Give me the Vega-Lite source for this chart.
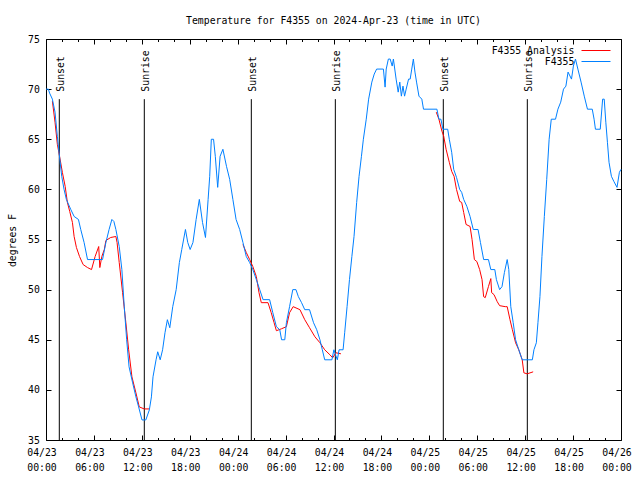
{
  "$schema": "https://vega.github.io/schema/vega-lite/v6.json",
  "width": 575,
  "height": 401,
  "autosize": {"type": "none"},
  "padding": {"left": 46, "top": 39, "right": 19, "bottom": 40},
  "background": "white",
  "view": {"stroke": "black", "strokeWidth": 1},
  "config": {
    "font": "DejaVu Sans Mono",
    "text": {"font": "DejaVu Sans Mono"}
  },
  "title": {
    "text": "Temperature for F4355 on 2024-Apr-23 (time in UTC)",
    "font": "DejaVu Sans Mono",
    "fontSize": 9.8,
    "fontWeight": "normal",
    "color": "black",
    "anchor": "middle",
    "frame": "group",
    "baseline": "alphabetic",
    "offset": 0.7
  },
  "datasets": {
    "observed": [
      {"hours": 0.0, "temp": 70}, {"hours": 0.3, "temp": 70}, {"hours": 0.45, "temp": 69.6}, {"hours": 0.8, "temp": 69},
      {"hours": 1.13, "temp": 67.7}, {"hours": 1.42, "temp": 65.3}, {"hours": 1.63, "temp": 63.7}, {"hours": 1.97, "temp": 61.3},
      {"hours": 2.26, "temp": 60}, {"hours": 2.55, "temp": 59}, {"hours": 3.1, "temp": 58}, {"hours": 3.52, "temp": 57.3},
      {"hours": 4.06, "temp": 57}, {"hours": 4.35, "temp": 56}, {"hours": 4.77, "temp": 54.7}, {"hours": 5.2, "temp": 53},
      {"hours": 7.08, "temp": 53}, {"hours": 7.5, "temp": 54.7}, {"hours": 7.9, "temp": 56}, {"hours": 8.25, "temp": 57},
      {"hours": 8.5, "temp": 56.8}, {"hours": 8.75, "temp": 56}, {"hours": 9.17, "temp": 54.3}, {"hours": 9.5, "temp": 52},
      {"hours": 9.8, "temp": 48.3}, {"hours": 10.1, "temp": 45}, {"hours": 10.4, "temp": 42.3}, {"hours": 10.85, "temp": 40.7},
      {"hours": 11.26, "temp": 39.3}, {"hours": 11.6, "temp": 38.3}, {"hours": 12.02, "temp": 37}, {"hours": 12.5, "temp": 37},
      {"hours": 12.94, "temp": 38}, {"hours": 13.2, "temp": 39.3}, {"hours": 13.4, "temp": 41.3}, {"hours": 13.78, "temp": 43},
      {"hours": 13.99, "temp": 43.8}, {"hours": 14.3, "temp": 43}, {"hours": 14.6, "temp": 44}, {"hours": 14.9, "temp": 45.7},
      {"hours": 15.2, "temp": 47}, {"hours": 15.5, "temp": 46.2}, {"hours": 15.87, "temp": 48.3}, {"hours": 16.3, "temp": 50},
      {"hours": 16.7, "temp": 52.7}, {"hours": 17.0, "temp": 54}, {"hours": 17.46, "temp": 56}, {"hours": 17.75, "temp": 54.7},
      {"hours": 18.05, "temp": 54}, {"hours": 18.4, "temp": 54.7}, {"hours": 18.8, "temp": 57}, {"hours": 19.2, "temp": 59},
      {"hours": 19.6, "temp": 56.7}, {"hours": 19.97, "temp": 55.2}, {"hours": 20.3, "temp": 59}, {"hours": 20.5, "temp": 61.3},
      {"hours": 20.7, "temp": 65}, {"hours": 20.98, "temp": 65}, {"hours": 21.2, "temp": 63.3}, {"hours": 21.5, "temp": 60.2},
      {"hours": 21.8, "temp": 63.3}, {"hours": 22.15, "temp": 64}, {"hours": 22.6, "temp": 62.3}, {"hours": 23.0, "temp": 61},
      {"hours": 23.4, "temp": 59}, {"hours": 23.8, "temp": 57}, {"hours": 24.25, "temp": 56}, {"hours": 24.66, "temp": 54.7},
      {"hours": 25.08, "temp": 53.3}, {"hours": 25.5, "temp": 52.7}, {"hours": 25.9, "temp": 52}, {"hours": 26.34, "temp": 51},
      {"hours": 26.76, "temp": 50}, {"hours": 27.18, "temp": 49}, {"hours": 28.0, "temp": 49}, {"hours": 28.4, "temp": 47.7},
      {"hours": 28.85, "temp": 46.3}, {"hours": 29.27, "temp": 46}, {"hours": 29.5, "temp": 45}, {"hours": 29.9, "temp": 45},
      {"hours": 30.1, "temp": 46.7}, {"hours": 30.5, "temp": 48.3}, {"hours": 30.9, "temp": 50}, {"hours": 31.3, "temp": 50},
      {"hours": 31.6, "temp": 49.3}, {"hours": 32.0, "temp": 48.7}, {"hours": 32.4, "temp": 48}, {"hours": 33.0, "temp": 48},
      {"hours": 33.5, "temp": 46.7}, {"hours": 33.9, "temp": 46}, {"hours": 34.3, "temp": 45}, {"hours": 34.6, "temp": 44},
      {"hours": 34.9, "temp": 43}, {"hours": 35.8, "temp": 43}, {"hours": 36.05, "temp": 44}, {"hours": 36.25, "temp": 43.5},
      {"hours": 36.48, "temp": 43}, {"hours": 36.7, "temp": 44}, {"hours": 37.2, "temp": 44}, {"hours": 37.4, "temp": 45.7},
      {"hours": 37.7, "temp": 48.3}, {"hours": 38.0, "temp": 51}, {"hours": 38.3, "temp": 53.3}, {"hours": 38.57, "temp": 55.3},
      {"hours": 38.9, "temp": 58.7}, {"hours": 39.2, "temp": 61.3}, {"hours": 39.5, "temp": 63.3}, {"hours": 39.74, "temp": 65},
      {"hours": 40.1, "temp": 67}, {"hours": 40.4, "temp": 69}, {"hours": 40.8, "temp": 70.7}, {"hours": 41.1, "temp": 71.5},
      {"hours": 41.4, "temp": 72}, {"hours": 42.25, "temp": 72}, {"hours": 42.46, "temp": 70.2}, {"hours": 42.6, "temp": 72},
      {"hours": 42.87, "temp": 73}, {"hours": 43.1, "temp": 73}, {"hours": 43.35, "temp": 72.3}, {"hours": 43.5, "temp": 73},
      {"hours": 43.84, "temp": 71}, {"hours": 44.1, "temp": 69.7}, {"hours": 44.3, "temp": 70.7}, {"hours": 44.5, "temp": 69.3},
      {"hours": 44.7, "temp": 70.3}, {"hours": 44.9, "temp": 69.3}, {"hours": 45.1, "temp": 70}, {"hours": 45.4, "temp": 71},
      {"hours": 45.6, "temp": 71}, {"hours": 45.8, "temp": 72}, {"hours": 46.0, "temp": 73}, {"hours": 46.2, "temp": 71.7},
      {"hours": 46.4, "temp": 70.7}, {"hours": 46.7, "temp": 69.3}, {"hours": 47.06, "temp": 69}, {"hours": 47.27, "temp": 68},
      {"hours": 48.95, "temp": 68}, {"hours": 49.2, "temp": 67}, {"hours": 49.45, "temp": 67}, {"hours": 49.7, "temp": 66},
      {"hours": 50.3, "temp": 66}, {"hours": 50.5, "temp": 65}, {"hours": 50.8, "temp": 63.7}, {"hours": 51.05, "temp": 62},
      {"hours": 51.4, "temp": 61.2}, {"hours": 51.8, "temp": 60}, {"hours": 52.05, "temp": 59.7}, {"hours": 52.3, "temp": 59},
      {"hours": 52.7, "temp": 58.3}, {"hours": 53.1, "temp": 57.3}, {"hours": 53.5, "temp": 56}, {"hours": 54.1, "temp": 56},
      {"hours": 54.4, "temp": 54.7}, {"hours": 54.8, "temp": 53}, {"hours": 55.4, "temp": 53}, {"hours": 55.7, "temp": 52},
      {"hours": 56.2, "temp": 52}, {"hours": 56.4, "temp": 51}, {"hours": 56.8, "temp": 50}, {"hours": 57.1, "temp": 50.3},
      {"hours": 57.4, "temp": 51.7}, {"hours": 57.75, "temp": 53}, {"hours": 57.95, "temp": 52}, {"hours": 58.2, "temp": 48.3},
      {"hours": 58.5, "temp": 46.7}, {"hours": 58.8, "temp": 45}, {"hours": 59.2, "temp": 44}, {"hours": 59.63, "temp": 43},
      {"hours": 60.9, "temp": 43}, {"hours": 61.1, "temp": 44}, {"hours": 61.4, "temp": 44.7}, {"hours": 61.6, "temp": 46.7},
      {"hours": 61.85, "temp": 49.3}, {"hours": 62.1, "temp": 53.3}, {"hours": 62.4, "temp": 57.3}, {"hours": 62.7, "temp": 61},
      {"hours": 63.0, "temp": 65}, {"hours": 63.27, "temp": 67}, {"hours": 63.8, "temp": 67}, {"hours": 64.1, "temp": 68},
      {"hours": 64.45, "temp": 68.7}, {"hours": 64.8, "temp": 70}, {"hours": 65.1, "temp": 70.3}, {"hours": 65.37, "temp": 71.7},
      {"hours": 65.8, "temp": 71}, {"hours": 66.04, "temp": 72.3}, {"hours": 66.3, "temp": 73}, {"hours": 66.6, "temp": 72},
      {"hours": 67.0, "temp": 70.7}, {"hours": 67.4, "temp": 69.3}, {"hours": 67.8, "temp": 68}, {"hours": 68.4, "temp": 68},
      {"hours": 68.63, "temp": 67}, {"hours": 68.8, "temp": 66}, {"hours": 69.4, "temp": 66}, {"hours": 69.7, "temp": 69},
      {"hours": 69.9, "temp": 69}, {"hours": 70.1, "temp": 66.7}, {"hours": 70.3, "temp": 64.7}, {"hours": 70.5, "temp": 62.7},
      {"hours": 70.8, "temp": 61.3}, {"hours": 71.1, "temp": 60.8}, {"hours": 71.5, "temp": 60.2}, {"hours": 71.8, "temp": 61.7},
      {"hours": 72.0, "temp": 62}
    ],
    "analysis": [
      {"hours": 0.8, "temp": 68.8, "seg": 1}, {"hours": 1.13, "temp": 66.7, "seg": 1}, {"hours": 1.42, "temp": 64.5, "seg": 1},
      {"hours": 1.7, "temp": 63.3, "seg": 1}, {"hours": 2.05, "temp": 61.7, "seg": 1}, {"hours": 2.4, "temp": 60.3, "seg": 1},
      {"hours": 2.68, "temp": 58.7, "seg": 1}, {"hours": 2.97, "temp": 57.8, "seg": 1}, {"hours": 3.31, "temp": 56.7, "seg": 1},
      {"hours": 3.52, "temp": 55.3, "seg": 1}, {"hours": 3.81, "temp": 54.2, "seg": 1}, {"hours": 4.2, "temp": 53.3, "seg": 1},
      {"hours": 4.65, "temp": 52.5, "seg": 1}, {"hours": 5.2, "temp": 52.2, "seg": 1}, {"hours": 5.7, "temp": 52, "seg": 1},
      {"hours": 6.15, "temp": 53.3, "seg": 1}, {"hours": 6.6, "temp": 54.3, "seg": 1}, {"hours": 6.74, "temp": 52.2, "seg": 1},
      {"hours": 6.99, "temp": 53.3, "seg": 1}, {"hours": 7.3, "temp": 54, "seg": 1}, {"hours": 7.5, "temp": 54.9, "seg": 1},
      {"hours": 8.1, "temp": 55.2, "seg": 1}, {"hours": 8.75, "temp": 55.3, "seg": 1}, {"hours": 8.9, "temp": 54.7, "seg": 1},
      {"hours": 9.17, "temp": 52.7, "seg": 1}, {"hours": 9.59, "temp": 49.7, "seg": 1}, {"hours": 10.0, "temp": 46.7, "seg": 1},
      {"hours": 10.35, "temp": 44, "seg": 1}, {"hours": 10.76, "temp": 41.3, "seg": 1}, {"hours": 11.26, "temp": 39.7, "seg": 1},
      {"hours": 11.68, "temp": 38.3, "seg": 1}, {"hours": 12.3, "temp": 38.1, "seg": 1}, {"hours": 12.9, "temp": 38.1, "seg": 1},
      {"hours": 24.66, "temp": 54.5, "seg": 2}, {"hours": 25.08, "temp": 53.7, "seg": 2}, {"hours": 25.5, "temp": 53, "seg": 2},
      {"hours": 25.9, "temp": 52.3, "seg": 2}, {"hours": 26.34, "temp": 51.3, "seg": 2}, {"hours": 26.67, "temp": 49.7, "seg": 2},
      {"hours": 26.96, "temp": 48.7, "seg": 2}, {"hours": 27.8, "temp": 48.7, "seg": 2}, {"hours": 28.2, "temp": 47.7, "seg": 2},
      {"hours": 28.56, "temp": 46.7, "seg": 2}, {"hours": 28.85, "temp": 45.9, "seg": 2}, {"hours": 29.5, "temp": 46.1, "seg": 2},
      {"hours": 30.1, "temp": 46.3, "seg": 2}, {"hours": 30.5, "temp": 47.7, "seg": 2}, {"hours": 30.95, "temp": 48.3, "seg": 2},
      {"hours": 31.8, "temp": 48, "seg": 2}, {"hours": 32.4, "temp": 47, "seg": 2}, {"hours": 33.0, "temp": 46.2, "seg": 2},
      {"hours": 33.67, "temp": 45.3, "seg": 2}, {"hours": 34.3, "temp": 44.7, "seg": 2}, {"hours": 34.9, "temp": 44, "seg": 2},
      {"hours": 35.55, "temp": 43.5, "seg": 2}, {"hours": 35.9, "temp": 43.2, "seg": 2}, {"hours": 36.3, "temp": 43.7, "seg": 2},
      {"hours": 36.93, "temp": 43.6, "seg": 2},
      {"hours": 48.87, "temp": 67.7, "seg": 3}, {"hours": 49.2, "temp": 67, "seg": 3}, {"hours": 49.58, "temp": 65.8, "seg": 3},
      {"hours": 49.8, "temp": 65.3, "seg": 3}, {"hours": 50.1, "temp": 64, "seg": 3}, {"hours": 50.5, "temp": 62.7, "seg": 3},
      {"hours": 50.8, "temp": 61.8, "seg": 3}, {"hours": 51.1, "temp": 61.3, "seg": 3}, {"hours": 51.4, "temp": 60, "seg": 3},
      {"hours": 51.8, "temp": 58.8, "seg": 3}, {"hours": 52.05, "temp": 58.7, "seg": 3}, {"hours": 52.3, "temp": 57.7, "seg": 3},
      {"hours": 52.6, "temp": 56.5, "seg": 3}, {"hours": 53.1, "temp": 56.3, "seg": 3}, {"hours": 53.35, "temp": 55, "seg": 3},
      {"hours": 53.64, "temp": 53, "seg": 3}, {"hours": 53.95, "temp": 52.8, "seg": 3}, {"hours": 54.3, "temp": 52, "seg": 3},
      {"hours": 54.6, "temp": 51, "seg": 3}, {"hours": 54.8, "temp": 49.3, "seg": 3}, {"hours": 55.0, "temp": 49.2, "seg": 3},
      {"hours": 55.4, "temp": 50.3, "seg": 3}, {"hours": 55.7, "temp": 51.1, "seg": 3}, {"hours": 55.8, "temp": 49.7, "seg": 3},
      {"hours": 56.1, "temp": 49.5, "seg": 3}, {"hours": 56.5, "temp": 48.8, "seg": 3}, {"hours": 56.8, "temp": 48.4, "seg": 3},
      {"hours": 57.5, "temp": 48.3, "seg": 3}, {"hours": 57.75, "temp": 48.3, "seg": 3}, {"hours": 58.1, "temp": 47, "seg": 3},
      {"hours": 58.4, "temp": 46, "seg": 3}, {"hours": 58.8, "temp": 44.7, "seg": 3}, {"hours": 59.2, "temp": 44, "seg": 3},
      {"hours": 59.63, "temp": 43, "seg": 3}, {"hours": 59.84, "temp": 41.7, "seg": 3}, {"hours": 60.25, "temp": 41.6, "seg": 3},
      {"hours": 61.0, "temp": 41.8, "seg": 3}
    ],
    "sun": [
      {"hours": 1.665, "event": "Sunset"},
      {"hours": 12.31, "event": "Sunrise"},
      {"hours": 25.71, "event": "Sunset"},
      {"hours": 36.23, "event": "Sunrise"},
      {"hours": 49.75, "event": "Sunset"},
      {"hours": 60.27, "event": "Sunrise"}
    ]
  },
  "resolve": {"axis": {"x": "independent", "y": "independent"}},
  "layer": [
    {
      "data": {"name": "sun"},
      "mark": {"type": "rule", "color": "black", "strokeWidth": 1},
      "encoding": {
        "x": {
          "field": "hours", "type": "quantitative",
          "scale": {"domain": [0, 72], "nice": false, "zero": false},
          "axis": {
            "orient": "top", "title": null, "labels": false, "domain": false, "grid": false,
            "values": [0, 6, 12, 18, 24, 30, 36, 42, 48, 54, 60, 66, 72],
            "tickColor": "black", "tickSize": 5, "offset": -5
          }
        },
        "y": {
          "datum": 69, "type": "quantitative",
          "scale": {"domain": [35, 75], "nice": false, "zero": false},
          "axis": {
            "orient": "right", "title": null, "labels": false, "domain": false, "grid": false,
            "values": [35, 40, 45, 50, 55, 60, 65, 70, 75],
            "tickColor": "black", "tickSize": 5, "offset": -5
          }
        },
        "y2": {"datum": 35}
      }
    },
    {
      "data": {"name": "sun"},
      "mark": {"type": "text", "angle": 270, "align": "left", "baseline": "middle", "dx": 7.5, "dy": 1.5, "font": "DejaVu Sans Mono", "fontSize": 9.8, "color": "black"},
      "encoding": {
        "x": {
          "field": "hours", "type": "quantitative",
          "axis": {
            "orient": "top", "title": null, "labels": false, "domain": false, "grid": false,
            "values": [2, 4, 8, 10, 14, 16, 20, 22, 26, 28, 32, 34, 38, 40, 44, 46, 50, 52, 56, 58, 62, 64, 68, 70],
            "tickColor": "black", "tickSize": 2.5, "offset": -2.5
          }
        },
        "y": {"datum": 69, "type": "quantitative", "axis": null},
        "text": {"field": "event"}
      }
    },
    {
      "data": {"name": "analysis"},
      "mark": {"type": "line", "strokeWidth": 1, "interpolate": "linear"},
      "encoding": {
        "x": {
          "field": "hours", "type": "quantitative",
          "axis": {
            "orient": "bottom", "title": null, "labels": false, "domain": false, "grid": false,
            "values": [2, 4, 8, 10, 14, 16, 20, 22, 26, 28, 32, 34, 38, 40, 44, 46, 50, 52, 56, 58, 62, 64, 68, 70],
            "tickColor": "black", "tickSize": 2.5, "offset": -2.5
          }
        },
        "y": {"field": "temp", "type": "quantitative", "axis": null},
        "detail": {"field": "seg"},
        "color": {"datum": "F4355 Analysis"}
      }
    },
    {
      "data": {"name": "observed"},
      "mark": {"type": "line", "strokeWidth": 1, "interpolate": "linear"},
      "encoding": {
        "x": {
          "field": "hours", "type": "quantitative",
          "axis": {
            "orient": "bottom", "title": null, "domain": false, "grid": false,
            "values": [0, 6, 12, 18, 24, 30, 36, 42, 48, 54, 60, 66, 72],
            "labelExpr": "['04/' + (23 + floor(datum.value / 24)), (datum.value % 24 < 10 ? '0' : '') + (datum.value % 24) + ':00']",
            "tickColor": "black", "tickSize": 5, "offset": -5,
            "labelFont": "DejaVu Sans Mono", "labelFontSize": 9.8, "labelColor": "black",
            "labelBaseline": "top", "labelLineHeight": 15, "labelPadding": 7.5, "labelOffset": -4.5,
            "labelFlush": false, "labelOverlap": false, "labelBound": false
          }
        },
        "y": {
          "field": "temp", "type": "quantitative",
          "axis": {
            "orient": "left", "title": "degrees F", "domain": false, "grid": false,
            "values": [35, 40, 45, 50, 55, 60, 65, 70, 75],
            "tickColor": "black", "tickSize": 5, "offset": -5,
            "labelFont": "DejaVu Sans Mono", "labelFontSize": 9.8, "labelColor": "black",
            "labelPadding": 6.7, "labelFlush": false, "labelOverlap": false,
            "titleFont": "DejaVu Sans Mono", "titleFontSize": 9.8, "titleFontWeight": "normal", "titleColor": "black",
            "titleX": -39, "titleY": 201, "titleAngle": 270, "titleAlign": "center", "titleBaseline": "middle"
          }
        },
        "color": {
          "datum": "F4355",
          "scale": {"domain": ["F4355 Analysis", "F4355"], "range": ["#ff0000", "#0080ff"]},
          "legend": {
            "orient": "none", "legendX": 544.5, "legendY": 6, "title": null,
            "symbolType": "M-2.9,0H2.9", "symbolSize": 100, "symbolStrokeWidth": 1,
            "labelAlign": "right", "labelOffset": -27.2, "rowPadding": 0, "padding": 0,
            "labelFont": "DejaVu Sans Mono", "labelFontSize": 9.8, "labelColor": "black", "labelLimit": 0
          }
        }
      }
    }
  ]
}
